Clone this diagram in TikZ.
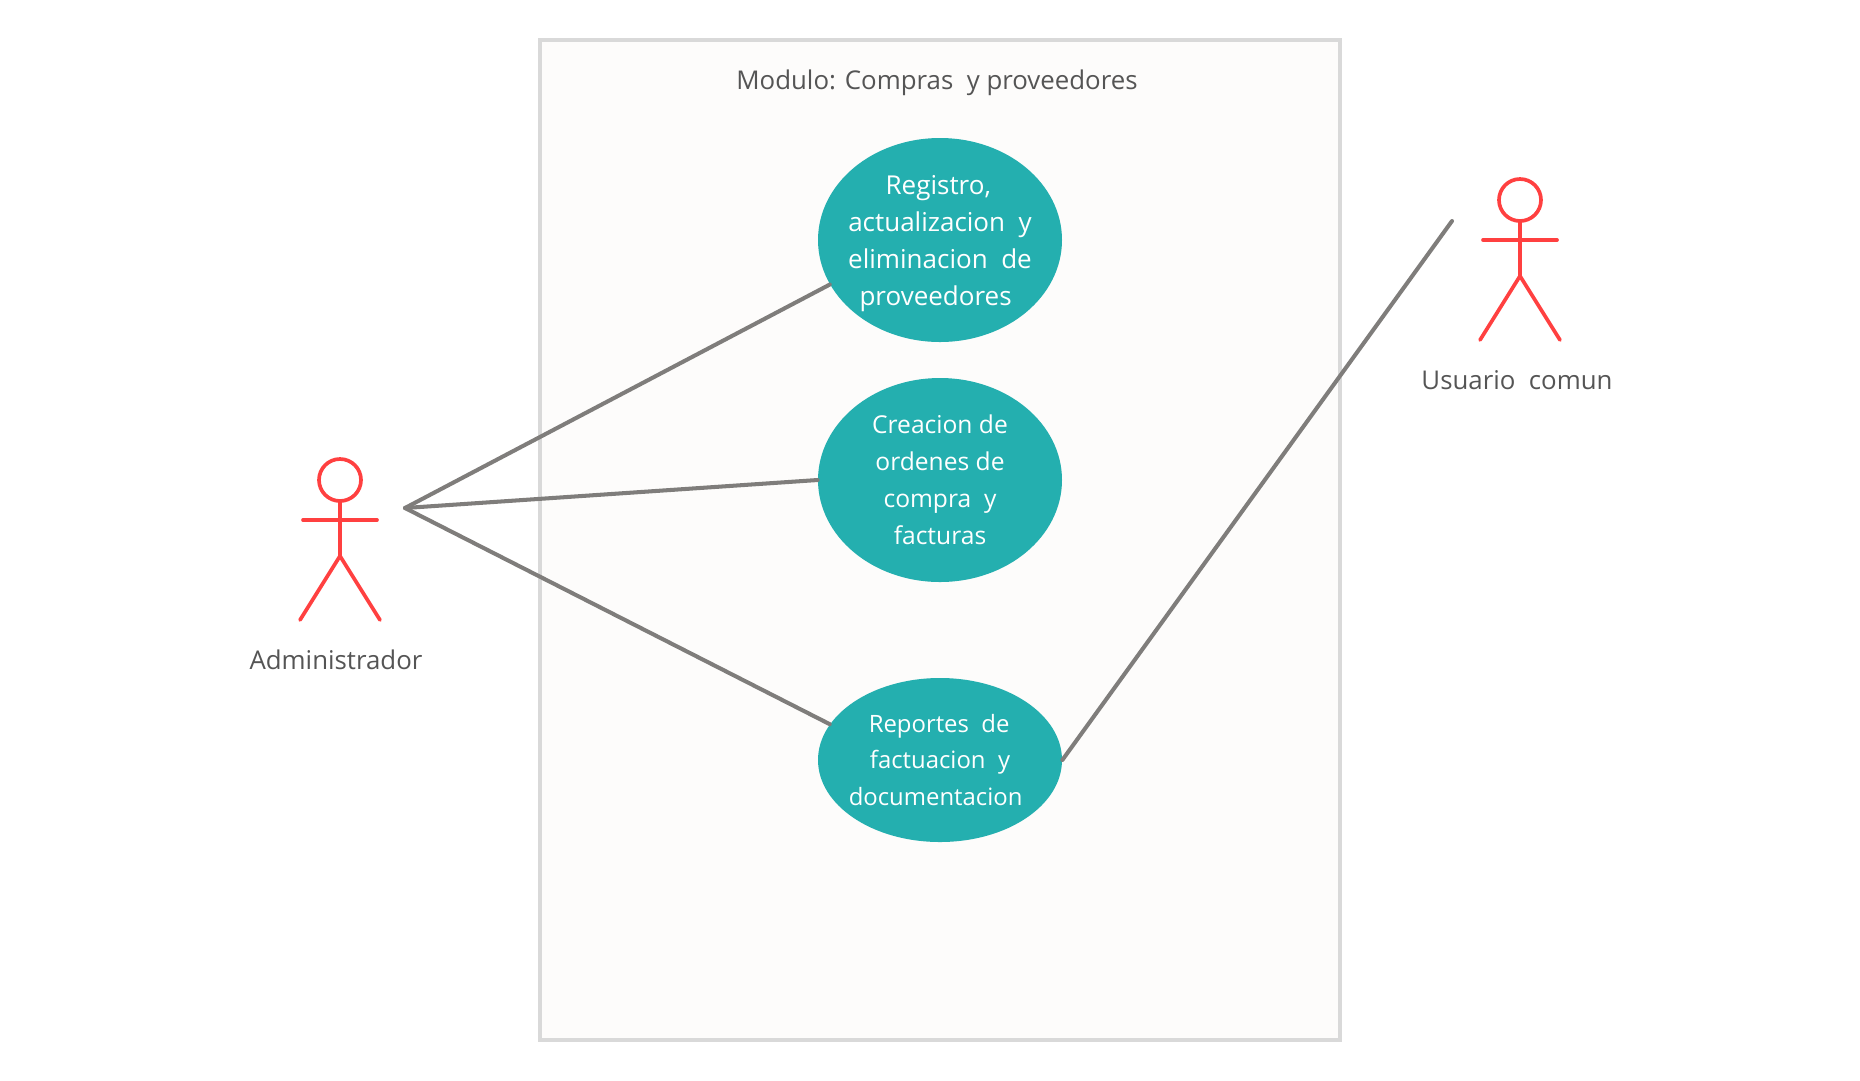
\documentclass[tikz,border=0pt]{standalone}
\usepackage{fontspec}
\setmainfont{Open Sans}
\usetikzlibrary{calc,shapes.geometric}
\definecolor{casefill}{HTML}{24AFAF}
\definecolor{actorred}{HTML}{FF4040}
\definecolor{linkgrey}{HTML}{7F7D7B}
\definecolor{framegrey}{HTML}{D9D9D9}
\definecolor{framefill}{HTML}{FDFCFB}
\definecolor{labelgrey}{HTML}{555555}
\def\stickman(#1,#2){
	\draw[actorline] (#1, #2) circle (21);
	\draw[actorline] (#1, #2+21) -- (#1, #2+76);
	\draw[actorline] (#1-37, #2+40) -- (#1+37, #2+40);
	\draw[actorline] (#1-40, #2+140) -- (#1, #2+76) -- (#1+40, #2+140);
}
\tikzset{
	actorline/.style={line width=2.1pt, color=actorred, line cap=round, line join=round},
	linkline/.style={line width=2.3pt, color=linkgrey, line cap=round},
	usecase/.style={ellipse, fill=casefill, text=white, minimum width=244*0.02cm, inner sep=-30pt, align=center},
	labeltext/.style={text=labelgrey, font=\fontsize{14.7}{21}\selectfont}
}

\begin{document}
\begin{tikzpicture}[x=0.02cm, y=-0.02cm]
		%%%%% START %%%%%
		
		\useasboundingbox (0, 0) rectangle (1860, 1080);
		
		\draw[line width=2pt, color=framegrey, fill=framefill] (540, 40) rectangle (1340, 1040);
		\node[labeltext] (title) at (937, 83) {Modulo: Compras\ \ y proveedores};
		
		\node[usecase, minimum height=204*0.02cm, font=\fontsize{14.8}{21}\selectfont] (registro) at (940, 240) {\rule{0pt}{15pt}Registro,\kern 2pt\\actualizacion\ \ y\\eliminacion\ \ de\\proveedores\kern 5pt};
		\node[usecase, minimum height=204*0.02cm, font=\fontsize{14}{21}\selectfont] (ordenes) at (940, 480) {Creacion de\\ordenes de\\compra\ \ y\\facturas};
		\node[usecase, minimum height=164*0.02cm, font=\fontsize{13.6}{21}\selectfont] (reportes) at (940, 760) {Reportes\ \ de\kern 1pt\\factuacion\ \ y\\documentacion\kern 5pt};
		
		\stickman(340, 480);
		\node[labeltext] (admintext) at (336, 660) {Administrador};
		\stickman(1520, 200);
		\node[labeltext] (usertext) at (1517, 380) {Usuario\ \ comun};
		
		\coordinate (adminlink) at (405, 508);
		\coordinate (userlink) at (1452, 221);
		\draw[linkline] (adminlink) -- (registro.202);
		\draw[linkline] (adminlink) -- (ordenes.west);
		\draw[linkline] (adminlink) -- (reportes.162);
		\draw[linkline] (reportes.east) -- (userlink);
		
		%%%%% END %%%%%
	\end{tikzpicture}
\end{document}
